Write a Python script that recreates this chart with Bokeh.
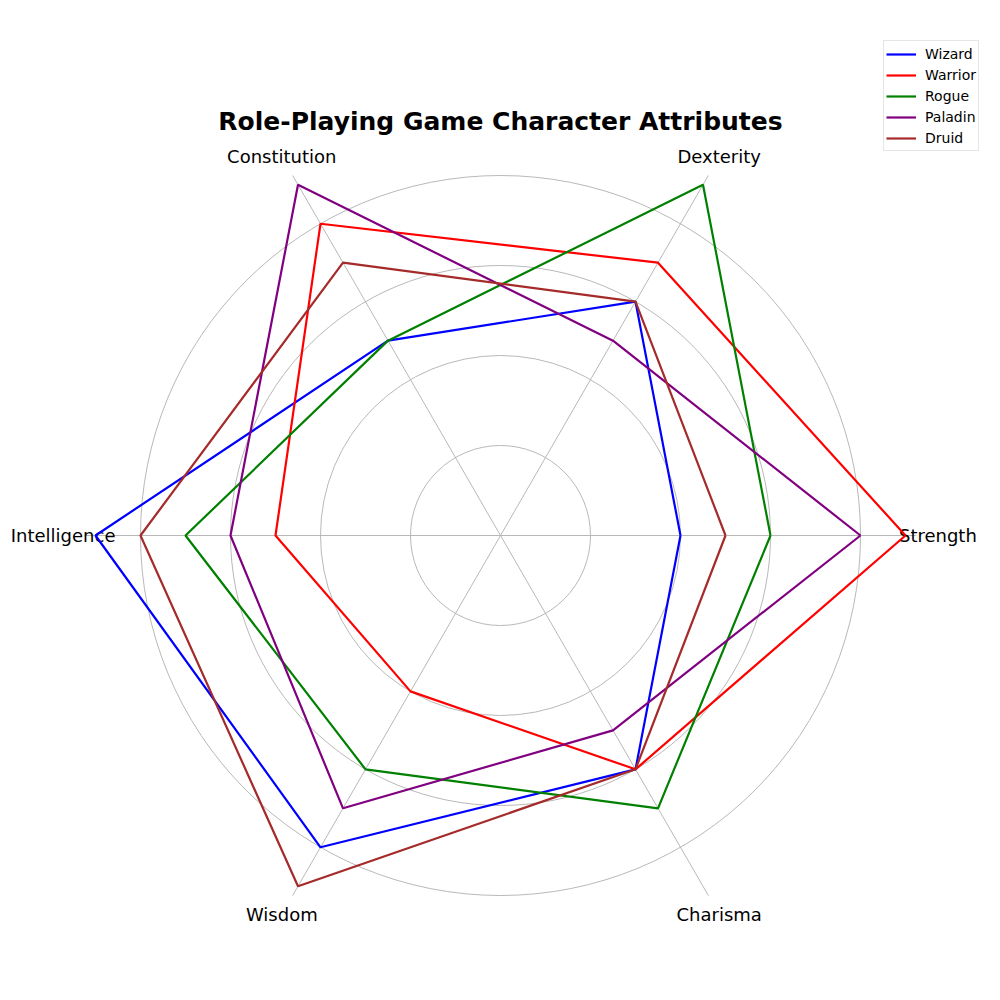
import numpy as np
from bokeh.plotting import figure
from bokeh.models import Legend, LegendItem
from bokeh.core.properties import value
from bokeh.embed import file_html
from bokeh.resources import INLINE

attributes = ["Strength", "Dexterity", "Constitution", "Intelligence", "Wisdom", "Charisma"]
characters = ["Wizard", "Warrior", "Rogue", "Paladin", "Druid"]
wizard = [4, 6, 5, 9, 8, 6]
warrior = [9, 7, 8, 5, 4, 6]
rogue = [6, 9, 5, 7, 6, 7]
paladin = [8, 5, 9, 6, 7, 5]
druid = [5, 6, 7, 8, 9, 6]
series = [wizard, warrior, rogue, paladin, druid]
colors = ["blue", "red", "green", "purple", "brown"]
radial_ticks = [2, 4, 6, 8]
title_text = "Role-Playing Game Character Attributes"

r_max = 9.24
label_r = 9.72
scale = 45.0  # pixels per unit
cx, cy = 500, 535  # centre in picture pixels

W = H = 984
x0 = (0 - cx) / scale
x1 = (W - cx) / scale
y1 = (cy - 0) / scale
y0 = (cy - H) / scale

p = figure(width=W, height=H, output_backend="svg", toolbar_location=None,
           x_range=(x0, x1), y_range=(y0, y1), min_border=0)
p.axis.visible = False
p.grid.visible = False
p.outline_line_color = None
p.background_fill_color = "white"
p.border_fill_color = "white"

n = len(attributes)
angles = np.array([2 * np.pi * i / n for i in range(n)])

# grid circles
p.circle(x=[0] * len(radial_ticks), y=[0] * len(radial_ticks), radius=radial_ticks,
         fill_color=None, line_color="#b0b0b0", line_width=0.9)
# spokes
p.segment(x0=[0] * n, y0=[0] * n, x1=list(r_max * np.cos(angles)), y1=list(r_max * np.sin(angles)),
          line_color="#b0b0b0", line_width=0.9)

# attribute labels
p.text(x=list(label_r * np.cos(angles)), y=list(label_r * np.sin(angles)), text=attributes,
       text_align="center", text_baseline="middle", text_font=value("DejaVu Sans"),
       text_font_size="18px", text_color="black")

items = []
for name, vals, col in zip(characters, series, colors):
    v = np.array(vals + [vals[0]], dtype=float)
    a = np.append(angles, angles[0])
    r = p.line(x=list(v * np.cos(a)), y=list(v * np.sin(a)), line_color=col, line_width=2.2)
    items.append(LegendItem(label=name, renderers=[r]))

# title
p.text(x=[0], y=[(cy - 121) / scale], text=[title_text], text_align="center",
       text_baseline="middle", text_font=value("DejaVu Sans"), text_font_style="bold",
       text_font_size="25px", text_color="black")

legend = Legend(items=items, location=(883, 833), label_text_font="DejaVu Sans",
                label_text_font_size="14px", label_text_color="black",
                glyph_width=30, glyph_height=14,
                label_standoff=9, spacing=0, padding=2, margin=0,
                border_line_color="#cccccc", border_line_width=1,
                background_fill_alpha=0.8, label_height=21)
p.add_layout(legend)

open("out.html", "w").write(file_html(p, INLINE))
